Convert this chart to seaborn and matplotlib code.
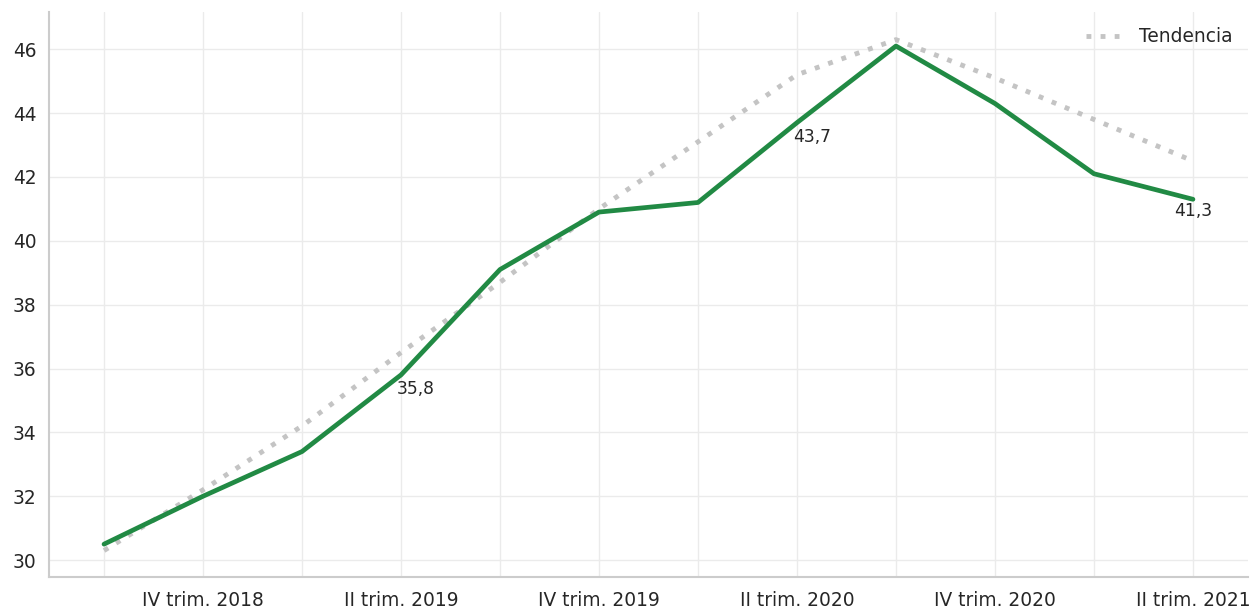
import matplotlib
matplotlib.use("Agg")
import matplotlib.pyplot as plt
import seaborn as sns
import pandas as pd

# Quarterly series, III trim. 2018 to II trim. 2021
periodos = ["III trim. 2018", "IV trim. 2018", "I trim. 2019", "II trim. 2019",
            "III trim. 2019", "IV trim. 2019", "I trim. 2020", "II trim. 2020",
            "III trim. 2020", "IV trim. 2020", "I trim. 2021", "II trim. 2021"]
valores = [30.5, 32.0, 33.4, 35.8, 39.1, 40.9, 41.2, 43.7, 46.1, 44.3, 42.1, 41.3]
tendencia = [30.3, 32.2, 34.2, 36.5, 38.7, 41.0, 43.1, 45.2, 46.3, 45.1, 43.8, 42.5]
etiquetas_x = ["", "IV trim. 2018", "", "II trim. 2019", "", "IV trim. 2019",
               "", "II trim. 2020", "", "IV trim. 2020", "", "II trim. 2021"]
rotulos = {3: "35,8", 7: "43,7", 11: "41,3"}

sns.set_style("whitegrid")
plt.rcParams["font.family"] = ["DejaVu Sans"]

df = pd.DataFrame({"pos": range(len(periodos)), "periodo": periodos,
                   "valor": valores, "tendencia": tendencia})

fig = plt.figure(figsize=(12.53, 6.09), dpi=100)
ax = fig.add_axes([0.0391, 0.0525, 0.9569, 0.9275])

sns.lineplot(data=df, x="pos", y="tendencia", ax=ax, color="#c4c4c4",
             linewidth=3.5, linestyle=(0, (1, 1.9)), label="Tendencia")
sns.lineplot(data=df, x="pos", y="valor", ax=ax, color="#218a44",
             linewidth=3.4, label="_nolegend_")

for i, txt in rotulos.items():
    if i == len(periodos) - 1:
        ax.annotate(txt, (i, valores[i]), xytext=(0, -2), textcoords="offset points",
                    ha="center", va="top", fontsize=12.3, color="#262626")
    else:
        ax.annotate(txt, (i, valores[i]), xytext=(-3, -4), textcoords="offset points",
                    ha="left", va="top", fontsize=12.3, color="#262626")

ax.set_xlim(-0.556, 11.556)
ax.set_ylim(29.47, 47.16)
ax.set_xticks(range(len(periodos)))
ax.set_xticklabels(etiquetas_x)
ax.set_yticks(range(30, 47, 2))
ax.tick_params(axis="both", length=0, labelsize=13.4, colors="#262626")
ax.tick_params(axis="x", pad=10)
ax.tick_params(axis="y", pad=9)
ax.set_xlabel("")
ax.set_ylabel("")

ax.grid(True, color="#ebebeb", linewidth=1.0)
for s in ["top", "right"]:
    ax.spines[s].set_visible(False)
for s in ["left", "bottom"]:
    ax.spines[s].set_visible(True)
    ax.spines[s].set_color("#cccccc")
    ax.spines[s].set_linewidth(1.5)

leg = ax.legend(loc="upper right", frameon=False, fontsize=13.4,
                handlelength=1.8, handletextpad=1.1, borderaxespad=0.4)
for t in leg.get_texts():
    t.set_color("#262626")

fig.savefig("out.png", dpi=100)
